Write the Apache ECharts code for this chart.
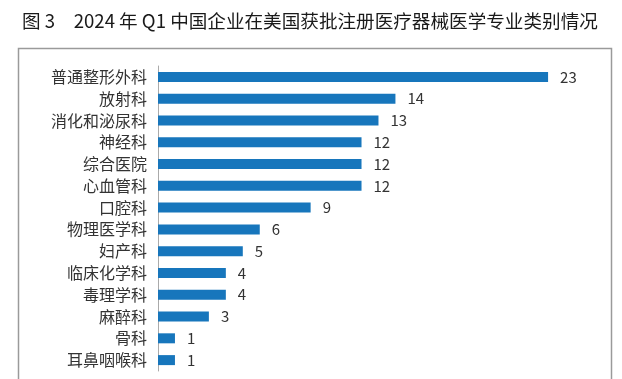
<!DOCTYPE html>
<html>
<head>
<meta charset="utf-8">
<script src="https://cdn.jsdelivr.net/npm/echarts@6/dist/echarts.min.js"></script>
<style>
html,body{margin:0;padding:0;background:#fff;}
#main{width:622px;height:379px;}
</style>
</head>
<body>
<div id="main"></div>
<script>
const titleText = '图 3　2024 年 Q1 中国企业在美国获批注册医疗器械医学专业类别情况';
const categories = ['普通整形外科','放射科','消化和泌尿科','神经科','综合医院','心血管科','口腔科','物理医学科','妇产科','临床化学科','毒理学科','麻醉科','骨科','耳鼻咽喉科'];
const values = [23,14,13,12,12,12,9,6,5,4,4,3,1,1];

const chart = echarts.init(document.getElementById('main'));
const font = '"Noto Sans CJK SC", "Noto Sans", sans-serif';
chart.setOption({
  animation: false,
  backgroundColor: '#fff',
  title: {
    text: titleText,
    left: 17,
    top: 7,
    textStyle: {fontSize: 18.6, fontWeight: 'normal', color: '#1a1a1a', fontFamily: font}
  },
  graphic: [{
    type: 'rect',
    shape: {x: 18.5, y: 48.5, width: 593, height: 400},
    style: {fill: 'none', stroke: '#9a9a9a', lineWidth: 1.5},
    silent: true
  }],
  grid: {left: 158, right: 40, top: 66, bottom: 8, containLabel: false},
  xAxis: {
    type: 'value', min: 0, max: 25, show: false
  },
  yAxis: {
    type: 'category',
    data: categories,
    inverse: true,
    axisLine: {show: true, lineStyle: {color: '#aaa', width: 1}},
    axisTick: {show: false},
    axisLabel: {fontSize: 16, color: '#333', margin: 11, fontFamily: font}
  },
  series: [{
    type: 'bar',
    data: values,
    barWidth: 10,
    itemStyle: {color: '#1776bc'},
    label: {show: true, position: 'right', distance: 12, fontSize: 15, color: '#333', fontFamily: font}
  }]
});
</script>
</body>
</html>
